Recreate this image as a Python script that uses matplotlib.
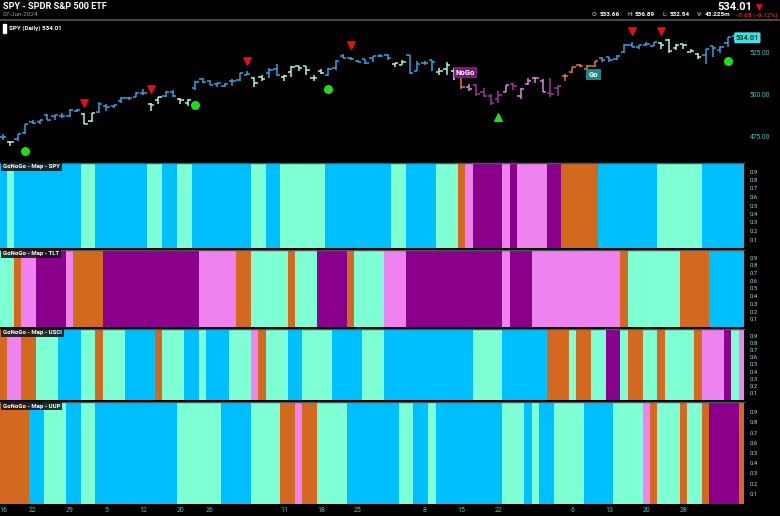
import numpy as np
import matplotlib.pyplot as plt
from matplotlib.patches import Rectangle

plt.rcParams['font.family'] = ['Roboto', 'DejaVu Sans']

# SPY daily OHLC, 16-Jan-2024 .. 07-Jun-2024 (trading-day index 0..100)
opens = [475.26, 471.82, 474.01, 477.65, 484.01, 484.01, 487.81, 487.58, 487.59, 487.73,
         490.56, 488.62, 484.63, 489.65, 493.70, 493.52, 496.29, 498.10, 498.84, 501.17,
         494.53, 496.79, 499.29, 501.70, 497.72, 495.42, 504.01, 509.27, 508.30, 506.70,
         505.33, 508.07, 508.98, 512.03, 510.24, 510.55, 513.14, 515.46, 510.48, 513.45,
         517.11, 516.97, 510.21, 514.00, 512.15, 515.77, 523.39, 522.11, 520.35, 521.38,
         521.71, 523.21, 523.83, 518.24, 517.72, 523.52, 514.46, 519.15, 520.50, 513.48,
         515.68, 514.37, 515.13, 504.94, 506.05, 501.98, 499.44, 497.83, 501.78, 506.56,
         499.18, 506.35, 510.09, 508.56, 501.38, 504.15, 511.16, 513.75, 517.56, 515.26,
         517.38, 521.81, 522.56, 521.11, 525.83, 529.88, 528.81, 529.57, 529.28, 530.65,
         532.96, 527.85, 530.27, 525.68, 524.52, 523.59, 529.02, 526.46, 530.77, 534.98,
         533.66]
highs = [476.61, 472.79, 477.06, 482.72, 485.22, 485.11, 488.77, 488.31, 489.12, 491.42,
         491.62, 489.08, 489.23, 496.05, 494.38, 494.32, 498.53, 498.71, 501.65, 503.50,
         495.48, 499.07, 502.20, 502.87, 498.41, 497.37, 508.49, 510.13, 508.75, 507.16,
         506.86, 509.74, 513.29, 514.20, 510.70, 512.07, 515.89, 518.22, 511.88, 517.38,
         517.29, 517.13, 511.70, 515.48, 516.00, 520.62, 524.11, 522.61, 521.08, 521.58,
         523.21, 524.61, 524.38, 518.98, 520.95, 523.87, 520.44, 520.18, 520.75, 516.16,
         519.48, 515.82, 515.30, 506.50, 506.22, 504.13, 500.46, 502.38, 506.09, 507.37,
         504.27, 509.88, 510.75, 509.56, 510.20, 505.89, 512.55, 516.61, 518.57, 517.74,
         520.21, 522.64, 522.67, 523.83, 530.08, 531.52, 529.52, 531.56, 531.52, 531.38,
         533.07, 530.27, 530.51, 527.31, 525.20, 527.50, 529.31, 529.15, 534.69, 535.42,
         536.89]
lows = [473.06, 469.87, 472.42, 476.54, 482.78, 482.89, 484.88, 485.39, 486.54, 487.17,
        490.11, 482.86, 483.80, 489.30, 490.23, 492.05, 495.36, 497.26, 498.49, 500.24,
        490.72, 494.40, 498.80, 498.75, 494.45, 493.56, 503.02, 507.10, 505.86, 504.75,
        504.96, 505.35, 508.56, 512.00, 504.91, 508.42, 509.81, 511.13, 508.50, 510.86,
        514.49, 511.82, 508.12, 512.44, 511.12, 515.08, 521.91, 520.97, 519.57, 518.40,
        519.49, 522.78, 520.97, 516.48, 517.67, 512.76, 514.01, 517.89, 514.35, 512.09,
        512.08, 509.08, 503.58, 502.21, 499.12, 498.56, 493.86, 495.43, 501.70, 503.13,
        497.49, 505.70, 507.25, 501.98, 499.08, 499.55, 508.56, 513.30, 516.45, 515.14,
        516.71, 519.59, 519.74, 520.56, 525.18, 528.54, 527.32, 529.17, 529.07, 527.60,
        524.72, 526.88, 527.11, 525.37, 521.33, 518.36, 522.60, 524.96, 528.73, 532.68,
        532.54]
closes = [474.93, 472.29, 476.49, 482.43, 483.45, 484.86, 485.39, 488.03, 487.41, 491.27,
          490.89, 482.88, 489.20, 494.35, 492.55, 493.98, 498.10, 498.32, 501.20, 500.98,
          494.08, 498.57, 502.01, 499.51, 496.76, 497.21, 507.50, 507.85, 505.99, 506.93,
          506.26, 508.08, 512.85, 512.30, 507.18, 509.75, 514.81, 511.72, 511.28, 516.78,
          515.97, 514.95, 509.83, 512.86, 515.71, 520.48, 522.20, 521.21, 519.77, 518.81,
          523.17, 523.07, 522.16, 518.84, 519.41, 513.07, 518.43, 518.72, 519.32, 514.12,
          518.00, 510.85, 504.45, 503.53, 500.55, 499.52, 495.16, 499.72, 505.65, 505.41,
          503.49, 508.26, 510.06, 501.98, 500.35, 505.03, 511.29, 516.57, 517.14, 517.19,
          520.17, 520.84, 520.91, 523.30, 529.78, 528.69, 529.45, 530.06, 531.36, 529.83,
          525.96, 529.44, 529.81, 526.10, 522.61, 527.37, 527.80, 528.39, 534.67, 534.66,
          534.01]

# GoNoGo states as (state, number of days); B strong go, A weak go, O go fish, K weak nogo, P strong nogo
spy_runs = [("B", 1), ("A", 1), ("B", 9), ("A", 2), ("B", 7), ("A", 2), ("B", 2), ("A", 2),
            ("B", 8), ("A", 2), ("B", 2), ("A", 6), ("B", 9), ("A", 2), ("B", 4), ("A", 3),
            ("O", 1), ("K", 1), ("P", 4), ("K", 1), ("P", 1), ("K", 4), ("P", 2), ("O", 5),
            ("B", 8), ("A", 6), ("B", 6)]
tlt_runs = [("A", 2), ("O", 1), ("K", 2), ("P", 4), ("K", 1), ("O", 4), ("P", 13), ("K", 5),
            ("O", 2), ("A", 5), ("O", 1), ("A", 3), ("P", 4), ("O", 1), ("A", 4), ("K", 3),
            ("P", 13), ("K", 1), ("P", 3), ("K", 12), ("O", 1), ("A", 7), ("O", 4), ("B", 5)]
usci_runs = [("O", 1), ("K", 2), ("O", 2), ("A", 3), ("B", 3), ("A", 2), ("O", 1), ("A", 3),
             ("B", 4), ("O", 1), ("A", 3), ("B", 2), ("A", 1), ("B", 3), ("A", 3), ("K", 1),
             ("O", 1), ("A", 3), ("B", 2), ("A", 4), ("B", 4), ("A", 3), ("B", 12), ("A", 4),
             ("B", 6), ("O", 3), ("A", 1), ("O", 2), ("A", 2), ("P", 2), ("A", 1), ("O", 2),
             ("A", 2), ("O", 1), ("A", 4), ("O", 1), ("K", 3), ("P", 1), ("A", 1), ("K", 1)]
uup_runs = [("O", 4), ("B", 2), ("A", 3), ("B", 2), ("A", 2), ("B", 11), ("A", 6), ("B", 4),
            ("A", 4), ("O", 2), ("K", 1), ("O", 2), ("A", 4), ("B", 7), ("A", 2), ("B", 2),
            ("A", 1), ("B", 9), ("A", 3), ("B", 1), ("A", 1), ("B", 2), ("A", 4), ("B", 4),
            ("A", 4), ("K", 1), ("O", 1), ("A", 3), ("O", 1), ("A", 2), ("O", 1), ("P", 4),
            ("O", 1)]

# signals: (day index, price level)
red_tri = [(11, 495.2), (20, 503.6), (33, 520.2), (47, 529.8), (85, 538.0), (89, 538.0)]
green_dots = [(3, 466.7), (26, 494.0), (44, 503.6), (98, 520.2)]
green_tri = [(67, 486.9)]

tick_days = [0, 4, 9, 14, 19, 24, 28, 38, 43, 48, 57, 62, 67, 77, 82, 87, 92]
tick_labels = ["16", "22", "29", "5", "12", "20", "26", "11", "18", "25",
               "8", "15", "22", "6", "13", "20", "28"]

map_cols = {"B": "#00bfff", "A": "#7fffd4", "O": "#d2691e", "P": "#8b008b", "K": "#ee82ee"}
bar_cols = {"B": "#3a9ee0", "A": "#b4f2d6", "O": "#e07b3c", "P": "#9c3a9c", "K": "#d98ad9"}


def expand(runs):
    out = []
    for s, n in runs:
        out += [s] * n
    return out


days = np.arange(len(closes))
W, H = 780, 516
fig = plt.figure(figsize=(7.8, 5.16), dpi=100, facecolor="black")


def px_axes(top, bottom):
    return fig.add_axes([0, 1 - bottom / H, 744 / W, (bottom - top) / H], facecolor="black")


# ---- price panel
ax = px_axes(21, 160)
spy_states = expand(spy_runs)
cols = [bar_cols[s] for s in spy_states]
ax.vlines(days, lows, highs, colors=cols, lw=1.1)
ax.hlines(opens, days - 0.45, days, colors=cols, lw=1.1)
ax.hlines(closes, days, days + 0.45, colors=cols, lw=1.1)
ax.scatter([d for d, p in red_tri], [p for d, p in red_tri], marker="v", s=28, color="#e3101a", zorder=3)
ax.scatter([d for d, p in green_dots], [p for d, p in green_dots], marker="o", s=30, color="#1fdc1f", zorder=3)
ax.scatter([d for d, p in green_tri], [p for d, p in green_tri], marker="^", s=30, color="#1fdc1f", zorder=3)
ax.text(61.2, 513.5, "NoGo", color="white", fontsize=5.5, fontweight="bold", va="center", ha="left",
        bbox=dict(boxstyle="square,pad=0.25", fc="#7a1a7a", ec="none"))
ax.text(79.2, 512.2, "Go", color="white", fontsize=5.5, fontweight="bold", va="center", ha="left",
        bbox=dict(boxstyle="square,pad=0.3", fc="#168a86", ec="none"))
ax.set_xlim(-0.4, 100.2)
ax.set_ylim(461.3, 544.0)
ax.yaxis.tick_right()
ax.set_yticks([475, 500, 525])
ax.set_yticklabels(["475.00", "500.00", "525.00"])
ax.tick_params(axis="y", colors="#3fc7c0", labelsize=4.8, length=0, pad=4)
ax.set_xticks([])
for s in ax.spines.values():
    s.set_visible(False)
ax.annotate("534.01", xy=(1.0, closes[-1]), xycoords=ax.get_yaxis_transform(),
            xytext=(-6, 0), textcoords="offset points", color="#0a3a3a", fontsize=5.3,
            fontweight="bold", va="center", ha="left",
            bbox=dict(boxstyle="round,pad=0.2", fc="#45e0e0", ec="none"), annotation_clip=False)

# ---- map panels
panels = [(163, 248, spy_runs, "SPY"), (250, 327, tlt_runs, "TLT"),
          (329, 400, usci_runs, "USCI"), (402, 504, uup_runs, "UUP")]
for top, bottom, runs, name in panels:
    m = px_axes(top, bottom)
    states = expand(runs)
    m.bar(days, 1.0, width=1.0, color=[map_cols[s] for s in states], linewidth=0)
    m.set_xlim(-0.4, 100.2)
    m.set_ylim(0, 1)
    m.yaxis.tick_right()
    m.set_yticks([0.1, 0.2, 0.3, 0.4, 0.5, 0.6, 0.7, 0.8, 0.9])
    m.set_yticklabels(["0.1", "0.2", "0.3", "0.4", "0.5", "0.6", "0.7", "0.8", "0.9"])
    m.tick_params(axis="y", colors="#a9dce0", labelsize=4.2, length=0, pad=4)
    for s in m.spines.values():
        s.set_visible(False)
    m.spines["top"].set_visible(True)
    m.spines["top"].set_color("#4a5a5e")
    m.spines["top"].set_linewidth(1.0)
    m.text(0.004, 0.985, "GoNoGo - Map - " + name, transform=m.transAxes, color="white",
           fontsize=4.3, fontweight="bold", va="top", ha="left",
           bbox=dict(boxstyle="square,pad=0.3", fc="#111111", ec="none", alpha=0.85))
    if name == "UUP":
        m.set_xticks(tick_days)
        m.set_xticklabels(tick_labels)
        m.tick_params(axis="x", colors="#3fc7c0", labelsize=5, length=0, pad=2)
    else:
        m.set_xticks([])

# ---- header
fig.text(3 / W, 1 - 2 / H, "SPY - SPDR S&P 500 ETF", color="white", fontsize=6.6,
         fontweight="bold", va="top", ha="left")
fig.text(3 / W, 1 - 12 / H, "07-Jun-2024", color="#9a9a9a", fontsize=4.6, va="top", ha="left")
fig.add_artist(plt.Line2D([0, 1], [1 - 20 / H, 1 - 20 / H], color="#4a5a5e", lw=1.2))
fig.add_artist(Rectangle((3 / W, 1 - 33 / H), 3 / W, 9 / H, color="white"))
fig.text(9 / W, 1 - 25 / H, "SPY (Daily) 534.01", color="white", fontsize=4.5,
         fontweight="bold", va="top", ha="left")
fig.text(752 / W, 1 - 2 / H, "534.01", color="white", fontsize=8, fontweight="bold", va="top", ha="right")
fig.text(756 / W, 1 - 3 / H, "\u25bc", color="#e3101a", fontsize=6.5, va="top", ha="left",
         family="DejaVu Sans")
info = [(592, "O:", "#9a9a9a"), (600, "533.66", "white"), (628, "H:", "#9a9a9a"),
        (635, "536.89", "white"), (663, "L:", "#9a9a9a"), (670, "532.54", "white"),
        (697, "V:", "#9a9a9a"), (705, "43.225m", "white"), (736, "-0.65 (-0.12%)", "#e3101a")]
for xp, t, c in info:
    fig.text(xp / W, 1 - 12 / H, t, color=c, fontsize=4.6, fontweight="bold", va="top", ha="left")

fig.savefig("out.png", dpi=100, facecolor="black")
